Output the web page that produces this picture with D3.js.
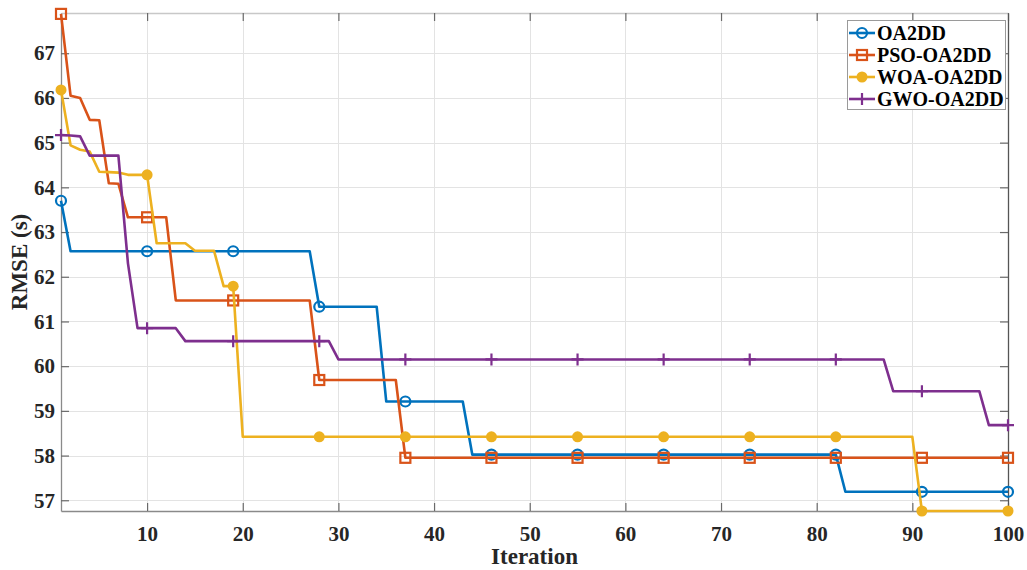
<!DOCTYPE html>
<meta charset="utf-8">
<head>
  <title>RMSE vs Iteration</title>
</head>
<style>
  body { margin: 0; background: #fff; }
  .tick-label { font: bold 21px "Liberation Serif", "Times New Roman", serif; fill: #262626; }
  .axis-title { font: bold 23px "Liberation Serif", "Times New Roman", serif; fill: #262626; }
  .legend-text { font: bold 20px "Liberation Serif", "Times New Roman", serif; fill: #000; }
  .grid line { stroke: #e3e3e3; stroke-width: 1px; shape-rendering: crispEdges; }
</style>
<body>
<script src="https://cdn.jsdelivr.net/npm/d3@7"></script>
<script>
// series values, one per iteration 1..100
var oa2dd = [
  63.7, 62.57, 62.57, 62.57, 62.57, 62.57, 62.57, 62.57, 62.57, 62.57,
  62.57, 62.57, 62.57, 62.57, 62.57, 62.57, 62.57, 62.57, 62.57, 62.57,
  62.57, 62.57, 62.57, 62.57, 62.57, 62.57, 62.57, 61.33, 61.33, 61.33,
  61.33, 61.33, 61.33, 61.33, 59.21, 59.21, 59.21, 59.21, 59.21, 59.21,
  59.21, 59.21, 59.21, 58.02, 58.02, 58.02, 58.02, 58.02, 58.02, 58.02,
  58.02, 58.02, 58.02, 58.02, 58.02, 58.02, 58.02, 58.02, 58.02, 58.02,
  58.02, 58.02, 58.02, 58.02, 58.02, 58.02, 58.02, 58.02, 58.02, 58.02,
  58.02, 58.02, 58.02, 58.02, 58.02, 58.02, 58.02, 58.02, 58.02, 58.02,
  58.02, 58.02, 57.19, 57.19, 57.19, 57.19, 57.19, 57.19, 57.19, 57.19,
  57.19, 57.19, 57.19, 57.19, 57.19, 57.19, 57.19, 57.19, 57.19, 57.19
];
var psoOa2dd = [
  67.88, 66.05, 66.0, 65.51, 65.5, 64.09, 64.08, 63.33, 63.33, 63.33,
  63.33, 63.33, 61.47, 61.47, 61.47, 61.47, 61.47, 61.47, 61.47, 61.47,
  61.47, 61.47, 61.47, 61.47, 61.47, 61.47, 61.47, 59.69, 59.69, 59.69,
  59.69, 59.69, 59.69, 59.69, 59.69, 59.69, 57.95, 57.95, 57.95, 57.95,
  57.95, 57.95, 57.95, 57.95, 57.95, 57.95, 57.95, 57.95, 57.95, 57.95,
  57.95, 57.95, 57.95, 57.95, 57.95, 57.95, 57.95, 57.95, 57.95, 57.95,
  57.95, 57.95, 57.95, 57.95, 57.95, 57.95, 57.95, 57.95, 57.95, 57.95,
  57.95, 57.95, 57.95, 57.95, 57.95, 57.95, 57.95, 57.95, 57.95, 57.95,
  57.95, 57.95, 57.95, 57.95, 57.95, 57.95, 57.95, 57.95, 57.95, 57.95,
  57.95, 57.95, 57.95, 57.95, 57.95, 57.95, 57.95, 57.95, 57.95, 57.95
];
var woaOa2dd = [
  66.18, 64.94, 64.84, 64.8, 64.35, 64.34, 64.33, 64.28, 64.28, 64.28,
  62.75, 62.75, 62.75, 62.75, 62.58, 62.58, 62.58, 61.79, 61.79, 58.42,
  58.42, 58.42, 58.42, 58.42, 58.42, 58.42, 58.42, 58.42, 58.42, 58.42,
  58.42, 58.42, 58.42, 58.42, 58.42, 58.42, 58.42, 58.42, 58.42, 58.42,
  58.42, 58.42, 58.42, 58.42, 58.42, 58.42, 58.42, 58.42, 58.42, 58.42,
  58.42, 58.42, 58.42, 58.42, 58.42, 58.42, 58.42, 58.42, 58.42, 58.42,
  58.42, 58.42, 58.42, 58.42, 58.42, 58.42, 58.42, 58.42, 58.42, 58.42,
  58.42, 58.42, 58.42, 58.42, 58.42, 58.42, 58.42, 58.42, 58.42, 58.42,
  58.42, 58.42, 58.42, 58.42, 58.42, 58.42, 58.42, 58.42, 58.42, 58.42,
  56.76, 56.76, 56.76, 56.76, 56.76, 56.76, 56.76, 56.76, 56.76, 56.76
];
var gwoOa2dd = [
  65.17, 65.16, 65.14, 64.71, 64.71, 64.71, 64.71, 62.3, 60.85, 60.85,
  60.85, 60.85, 60.85, 60.56, 60.56, 60.56, 60.56, 60.56, 60.56, 60.56,
  60.56, 60.56, 60.56, 60.56, 60.56, 60.56, 60.56, 60.56, 60.56, 60.15,
  60.15, 60.15, 60.15, 60.15, 60.15, 60.15, 60.15, 60.15, 60.15, 60.15,
  60.15, 60.15, 60.15, 60.15, 60.15, 60.15, 60.15, 60.15, 60.15, 60.15,
  60.15, 60.15, 60.15, 60.15, 60.15, 60.15, 60.15, 60.15, 60.15, 60.15,
  60.15, 60.15, 60.15, 60.15, 60.15, 60.15, 60.15, 60.15, 60.15, 60.15,
  60.15, 60.15, 60.15, 60.15, 60.15, 60.15, 60.15, 60.15, 60.15, 60.15,
  60.15, 60.15, 60.15, 60.15, 60.15, 60.15, 60.15, 59.44, 59.44, 59.44,
  59.44, 59.44, 59.44, 59.44, 59.44, 59.44, 59.44, 58.68, 58.68, 58.68
];

var seriesNames = ["OA2DD", "PSO-OA2DD", "WOA-OA2DD", "GWO-OA2DD"];
var seriesColors = ["#0072BD", "#D95319", "#EDB120", "#7E2F8E"];
var seriesMarkers = ["circle", "square", "dot", "plus"];
var markerIters = [1, 10, 19, 28, 37, 46, 55, 64, 73, 82, 91, 100];
var xTicks = [10, 20, 30, 40, 50, 60, 70, 80, 90, 100];
var yTicks = [57, 58, 59, 60, 61, 62, 63, 64, 65, 66, 67];

var W = 1027, H = 570;
var plot = {left: 61, right: 1008, top: 13, bottom: 511};

var svg = d3.select("body").append("svg")
    .attr("width", W)
    .attr("height", H);
svg.append("rect").attr("width", W).attr("height", H).attr("fill", "#fff");

var x = d3.scaleLinear().domain([1, 100]).range([plot.left, plot.right]);
var y = d3.scaleLinear().domain([56.76, 67.9]).range([plot.bottom, plot.top]);

// grid
var grid = svg.append("g").attr("class", "grid");
grid.selectAll(".gx").data(xTicks).enter().append("line")
    .attr("x1", d => Math.round(x(d)) + 0.5).attr("x2", d => Math.round(x(d)) + 0.5)
    .attr("y1", plot.top).attr("y2", plot.bottom);
grid.selectAll(".gy").data(yTicks).enter().append("line")
    .attr("y1", d => Math.round(y(d)) + 0.5).attr("y2", d => Math.round(y(d)) + 0.5)
    .attr("x1", plot.left).attr("x2", plot.right);

// axes (ticks pointing inward, box all round)
var tickLen = 8;
var xBottom = svg.append("g")
    .attr("transform", "translate(0," + plot.bottom + ")")
    .call(d3.axisBottom(x).tickValues(xTicks).tickSizeInner(-tickLen).tickSizeOuter(0).tickPadding(15));
var xTop = svg.append("g")
    .attr("transform", "translate(0," + plot.top + ")")
    .call(d3.axisTop(x).tickValues(xTicks).tickSizeInner(-tickLen).tickSizeOuter(0).tickFormat(""));
var yLeft = svg.append("g")
    .attr("transform", "translate(" + plot.left + ",0)")
    .call(d3.axisLeft(y).tickValues(yTicks).tickSizeInner(-tickLen).tickSizeOuter(0).tickPadding(6));
var yRight = svg.append("g")
    .attr("transform", "translate(" + plot.right + ",0)")
    .call(d3.axisRight(y).tickValues(yTicks).tickSizeInner(-tickLen).tickSizeOuter(0).tickFormat(""));

[xBottom, xTop, yLeft, yRight].forEach(function(g) {
  g.select(".domain").attr("stroke", "#8a8a8a").attr("stroke-width", 1.3);
  g.selectAll(".tick line").attr("stroke", "#6a6a6a").attr("stroke-width", 1.2);
  g.selectAll(".tick text").attr("class", "tick-label").attr("font-family", null).attr("font-size", null);
});
xTop.select(".domain").attr("stroke", "#c8c8c8");
yRight.select(".domain").attr("stroke", "#555");

// axis titles
svg.append("text")
    .attr("class", "axis-title")
    .attr("x", (plot.left + plot.right) / 2)
    .attr("y", 564)
    .attr("text-anchor", "middle")
    .text("Iteration");
svg.append("text")
    .attr("class", "axis-title")
    .attr("transform", "translate(27," + ((plot.top + plot.bottom) / 2) + ") rotate(-90)")
    .attr("text-anchor", "middle")
    .text("RMSE (s)");

// markers
function drawMarker(g, type, color, cx, cy) {
  if (type === "circle") {
    g.append("circle").attr("cx", cx).attr("cy", cy).attr("r", 5)
        .attr("fill", "none").attr("stroke", color).attr("stroke-width", 2.2);
  } else if (type === "square") {
    g.append("rect").attr("x", cx - 5).attr("y", cy - 5).attr("width", 10).attr("height", 10)
        .attr("fill", "none").attr("stroke", color).attr("stroke-width", 2.2);
  } else if (type === "dot") {
    g.append("circle").attr("cx", cx).attr("cy", cy).attr("r", 5.5).attr("fill", color);
  } else {
    g.append("path").attr("d", "M" + (cx - 6) + "," + cy + "H" + (cx + 6) + "M" + cx + "," + (cy - 6) + "V" + (cy + 6))
        .attr("stroke", color).attr("stroke-width", 2.2).attr("fill", "none");
  }
}

var allSeries = [oa2dd, psoOa2dd, woaOa2dd, gwoOa2dd];
var line = d3.line()
    .x(function(d, i) { return x(i + 1); })
    .y(function(d) { return y(d); });

allSeries.forEach(function(vals, k) {
  var g = svg.append("g");
  g.append("path")
      .datum(vals)
      .attr("fill", "none")
      .attr("stroke", seriesColors[k])
      .attr("stroke-width", 2.6)
      .attr("stroke-linejoin", "round")
      .attr("d", line);
  markerIters.forEach(function(it) {
    drawMarker(g, seriesMarkers[k], seriesColors[k], x(it), y(vals[it - 1]));
  });
});

// legend
var lg = svg.append("g");
lg.append("rect")
    .attr("x", 847.5).attr("y", 20.5).attr("width", 158).attr("height", 89)
    .attr("fill", "#fff").attr("stroke", "#9a9a9a").attr("stroke-width", 1);
seriesNames.forEach(function(name, k) {
  var cy = 33 + k * 22;
  lg.append("line")
      .attr("x1", 849).attr("x2", 875).attr("y1", cy).attr("y2", cy)
      .attr("stroke", seriesColors[k]).attr("stroke-width", 2.6);
  drawMarker(lg, seriesMarkers[k], seriesColors[k], 862, cy);
  lg.append("text")
      .attr("class", "legend-text")
      .attr("x", 877).attr("y", cy + 7)
      .text(name);
});
</script>
</body>
